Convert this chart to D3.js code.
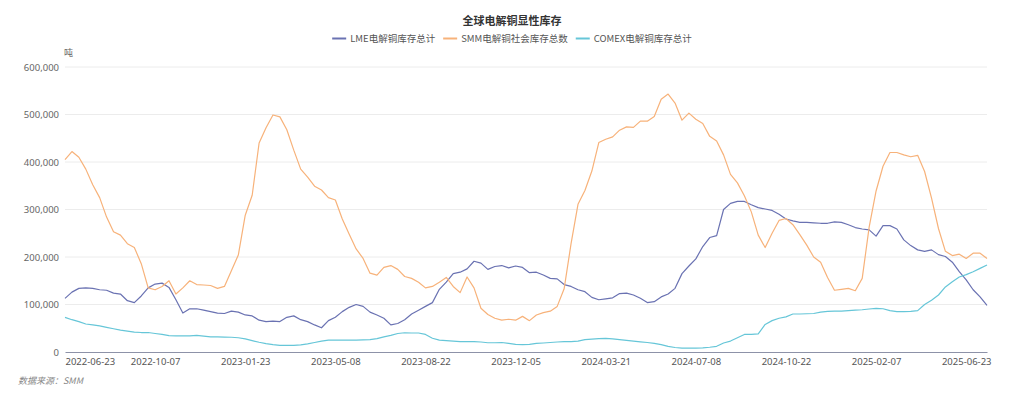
<!DOCTYPE html>
<html>
<head>
<meta charset="utf-8">
<script src="https://cdn.jsdelivr.net/npm/d3@7/dist/d3.min.js"></script>
<style>
  body { margin: 0; background: #fff; }
  text { font-family: "Noto Sans CJK SC", "Noto Sans", sans-serif; }
</style>
</head>
<body>
<div id="chart"></div>
<script>
// tick labels, one every 13 samples
var tickLabels = ["2022-06-23","2022-10-07","2023-01-23","2023-05-08","2023-08-22","2023-12-05",
  "2024-03-21","2024-07-08","2024-10-22","2025-02-07","2025-06-23"];
var TICK_EVERY = 13;

// values in thousand tonnes
var lme = [113,126,134,135,134,131,130,124,122,108,104,118,135,143,145,136,110,82,91,91,
  88,85,82,81,86,84,78,76,67,64,65,64,73,76,68,64,57,51,66,73,
  85,94,100,96,84,78,71,57,60,68,80,88,96,104,132,147,165,168,175,191,
  187,174,180,182,177,181,178,167,168,162,155,154,142,138,131,127,115,110,112,114,
  123,124,120,113,104,106,116,122,134,165,181,196,222,241,245,300,313,317,317,310,
  304,301,298,290,280,276,273,273,272,271,271,274,273,268,262,259,257,244,266,266,
  259,236,224,215,212,215,205,201,189,169,152,131,116,98];

var smm = [405,422,410,385,352,325,284,253,246,228,220,186,135,131,138,150,122,135,150,142,
  141,140,134,138,171,204,288,330,440,472,499,495,468,425,385,368,349,341,325,320,
  280,248,217,197,166,162,178,182,174,159,155,147,135,138,147,157,138,125,158,135,
  92,79,71,67,69,67,75,66,78,83,86,96,133,228,311,340,381,441,448,453,
  467,474,473,486,486,496,532,543,524,488,503,490,481,454,444,415,374,356,329,295,
  246,220,250,277,281,268,247,225,200,189,157,130,132,134,129,155,263,339,391,420,
  420,415,411,414,380,324,260,212,203,206,197,208,208,197];

var comex = [73,68,64,59,57,55,52,49,46,44,42,41,41,39,37,34.5,34,34,34,35,
  33.5,32,32,31.5,31,30,27.5,24,20.5,17.5,15.5,14,14,14,15,17,20,23,25,25,
  25,25,25,25.5,26,28,32,35,39,40.5,40,40,37,29,25,24,23,22,22,22,
  21,19.5,19.5,20,18,16,15.5,16,18,19,20,21,22,22,23,26,27,28,28.5,27.5,
  26,24.5,23,21.5,20,18,15.5,12,9.5,8,8,8,8.5,10,12,19,23,30,37,37,
  38,58,66,71,74,80,80,80.5,81,84,85.5,86,86,87,88,89,90.5,92,91,87,
  85,85,85.5,87,100,109,120,137,148,158,163,169,176,183];

var seriesNames = ["LME电解铜库存总计", "SMM电解铜社会库存总数", "COMEX电解铜库存总计"];
var seriesColors = ["#6a72b2", "#f7b27a", "#66c6d8"];
var seriesData = [lme, smm, comex];

var width = 1024, height = 399;
var plotLeft = 65, plotRight = 987, plotTop = 67, plotBottom = 352;

var svg = d3.select("#chart").append("svg")
  .attr("width", width).attr("height", height);

var x = d3.scalePoint().domain(d3.range(lme.length)).range([plotLeft, plotRight]);
var y = d3.scaleLinear().domain([0, 600]).range([plotBottom, plotTop]);

// grid
svg.append("g").selectAll("line")
  .data(y.ticks(6).filter(function(d) { return d > 0; }))
  .enter().append("line")
  .attr("x1", plotLeft).attr("x2", plotRight)
  .attr("y1", function(d) { return y(d); }).attr("y2", function(d) { return y(d); })
  .attr("stroke", "#ececec").attr("stroke-width", 1);

// y axis labels
var yAxis = d3.axisLeft(y).ticks(6).tickSize(0).tickPadding(6)
  .tickFormat(function(d) { return d3.format(",")(d * 1000); });
var gy = svg.append("g").attr("transform", "translate(" + plotLeft + ",0)").call(yAxis);
gy.select(".domain").remove();
gy.selectAll("text").attr("font-size", 9.5).attr("fill", "#666")
  .style("font-family", "'Noto Sans', sans-serif");

svg.append("text").attr("x", 64).attr("y", 56)
  .attr("font-size", 9).attr("fill", "#666").text("吨");

// x axis
var tickIdx = d3.range(0, lme.length, TICK_EVERY);
var xAxis = d3.axisBottom(x).tickValues(tickIdx).tickSize(0).tickPadding(6)
  .tickFormat(function(i) { return tickLabels[i / TICK_EVERY]; });
var gx = svg.append("g").attr("transform", "translate(0," + plotBottom + ")").call(xAxis);
gx.select(".domain").attr("stroke", "#8d92a8").attr("stroke-width", 1.2);
gx.selectAll("text").attr("font-size", 9.5).attr("fill", "#555")
  .style("font-family", "'Noto Sans', sans-serif")
  .attr("text-anchor", function(i) { return i === 0 ? "start" : "middle"; });

// lines
var line = d3.line()
  .x(function(d, i) { return x(i); })
  .y(function(d) { return y(d); });

seriesData.forEach(function(s, k) {
  svg.append("path").datum(s)
    .attr("d", line)
    .attr("fill", "none")
    .attr("stroke", seriesColors[k])
    .attr("stroke-width", 1.2)
    .attr("stroke-linejoin", "round");
});

// title
svg.append("text").attr("x", 512).attr("y", 25)
  .attr("text-anchor", "middle").attr("font-size", 11).attr("font-weight", "bold")
  .attr("fill", "#333").text("全球电解铜显性库存");

// legend
var legend = svg.append("g");
var lx = 0;
seriesNames.forEach(function(name, k) {
  var item = legend.append("g").attr("transform", "translate(" + lx + ",0)");
  item.append("line").attr("x1", 0).attr("x2", 14).attr("y1", 0).attr("y2", 0)
    .attr("stroke", seriesColors[k]).attr("stroke-width", 2);
  var t = item.append("text").attr("x", 18).attr("y", 3.5)
    .attr("font-size", 9.5).attr("fill", "#555").text(name);
  lx += 18 + t.node().getComputedTextLength() + 8;
});
var legendW = lx - 8;
legend.attr("transform", "translate(" + (512 - legendW / 2) + ",38.5)");

// source
svg.append("text").attr("x", 18).attr("y", 384)
  .attr("font-size", 9).attr("font-style", "italic").attr("fill", "#888")
  .text("数据来源：SMM");
</script>
</body>
</html>
